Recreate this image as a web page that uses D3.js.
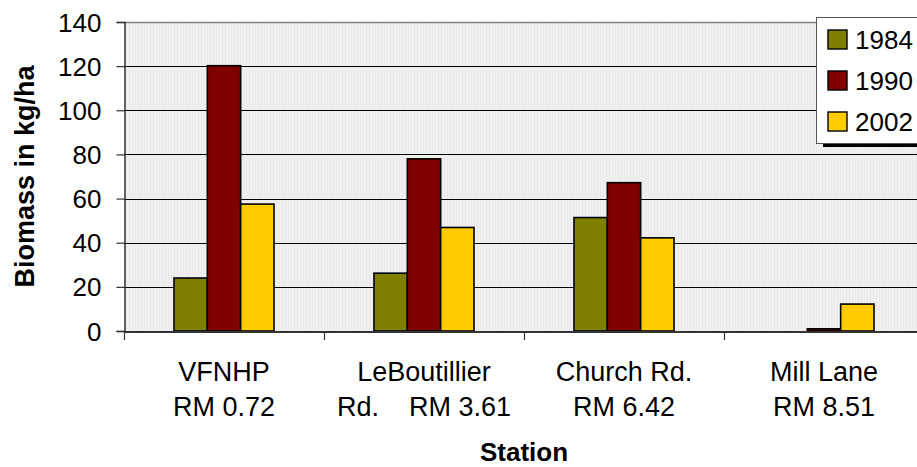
<!DOCTYPE html>
<html>
<head>
<meta charset="utf-8">
<script src="https://cdn.jsdelivr.net/npm/d3@7"></script>
<style>
  html, body { margin: 0; padding: 0; background: #fff; }
  svg { display: block; font-family: "Liberation Sans", Arial, sans-serif; }
</style>
</head>
<body>
<svg id="chart" width="917" height="467"></svg>
<script>
// Station categories and their two-line axis labels
const stations = ["VFNHP", "LeBoutillier Rd.", "Church Rd.", "Mill Lane"];
const stationLabels = [
  ["VFNHP", "RM 0.72"],
  ["LeBoutillier", "Rd.    RM 3.61"],
  ["Church Rd.", "RM 6.42"],
  ["Mill Lane", "RM 8.51"]
];

// Survey years and biomass (kg/ha) per station
const years = ["1984", "1990", "2002"];
const biomass1984 = [24, 26.2, 51.4, 0];
const biomass1990 = [120.2, 78, 67.2, 1];
const biomass2002 = [57.5, 46.9, 42.2, 12.2];
const yearColors = ["#808000", "#800000", "#FFCC00"];

// Value axis ticks
const yTicks = [0, 20, 40, 60, 80, 100, 120, 140];

const series = [biomass1984, biomass1990, biomass2002];

const svg = d3.select("#chart");
const plot = { left: 124, top: 22, right: 924, bottom: 331 };

const x = d3.scaleBand()
  .domain(stations)
  .range([plot.left, plot.right])
  .paddingInner(0)
  .paddingOuter(0);

const xYear = d3.scaleBand()
  .domain(years)
  .range([0, x.bandwidth()])
  .paddingInner(0)
  .paddingOuter(1.5);

const y = d3.scaleLinear().domain([0, 140]).range([plot.bottom, plot.top]);

// Plot area background with fine vertical texture
const defs = svg.append("defs");
const pat = defs.append("pattern")
  .attr("id", "bgTexture")
  .attr("patternUnits", "userSpaceOnUse")
  .attr("width", 3).attr("height", 10);
pat.append("rect").attr("width", 3).attr("height", 10).attr("fill", "#f0f0f0");
pat.append("rect").attr("width", 1).attr("height", 10).attr("fill", "#e9e9e9");

svg.append("rect")
  .attr("x", plot.left).attr("y", plot.top)
  .attr("width", plot.right - plot.left)
  .attr("height", plot.bottom - plot.top)
  .attr("fill", "url(#bgTexture)");

// Horizontal gridlines
svg.append("g")
  .selectAll("line")
  .data(yTicks.filter(t => t > 0 && t < 140))
  .join("line")
  .attr("x1", plot.left).attr("x2", plot.right)
  .attr("y1", d => Math.round(y(d)) + 0.5)
  .attr("y2", d => Math.round(y(d)) + 0.5)
  .attr("stroke", "#000").attr("stroke-width", 1);

// Top border of the plot area
svg.append("line")
  .attr("x1", plot.left).attr("x2", plot.right)
  .attr("y1", Math.round(y(140)) + 0.5).attr("y2", Math.round(y(140)) + 0.5)
  .attr("stroke", "#808080").attr("stroke-width", 1.5);

// Bars
const groups = svg.append("g")
  .selectAll("g")
  .data(stations)
  .join("g")
  .attr("transform", d => `translate(${x(d)},0)`);

groups.selectAll("rect")
  .data((d, i) => years.map((yr, j) => ({ year: yr, value: series[j][i], color: yearColors[j] })))
  .join("rect")
  .filter(d => d.value > 0)
  .attr("x", d => xYear(d.year))
  .attr("width", xYear.bandwidth())
  .attr("y", d => y(d.value))
  .attr("height", d => y(0) - y(d.value))
  .attr("fill", d => d.color)
  .attr("stroke", "#000")
  .attr("stroke-width", 1.6);

// Y axis
const yAxis = d3.axisLeft(y)
  .tickValues(yTicks)
  .tickSize(8)
  .tickPadding(15)
  .tickFormat(d3.format("d"));

const yg = svg.append("g")
  .attr("transform", `translate(${plot.left + 0.5},0)`)
  .call(yAxis);
yg.select(".domain").attr("stroke", "#333").attr("stroke-width", 1.5);
yg.selectAll(".tick line").attr("stroke", "#333").attr("stroke-width", 1.2);
yg.selectAll(".tick text")
  .attr("font-size", 26)
  .attr("fill", "#000")
  .attr("font-family", "Liberation Sans, Arial, sans-serif")
  .attr("dy", "0.35em");

// X axis (category ticks at band boundaries)
const xAxis = d3.axisBottom(x).tickSize(0).tickFormat("");
const xg = svg.append("g")
  .attr("transform", `translate(0,${plot.bottom + 0.5})`)
  .call(xAxis);
xg.select(".domain").attr("stroke", "#333").attr("stroke-width", 2);
xg.selectAll(".tick").remove();

svg.append("g")
  .selectAll("line")
  .data(stations)
  .join("line")
  .attr("x1", d => Math.round(x(d)) + 0.5)
  .attr("x2", d => Math.round(x(d)) + 0.5)
  .attr("y1", plot.bottom)
  .attr("y2", plot.bottom + 9)
  .attr("stroke", "#333").attr("stroke-width", 1.2);

// Category labels (two lines)
const labels = svg.append("g")
  .selectAll("text")
  .data(stations)
  .join("text")
  .attr("text-anchor", "middle")
  .attr("font-size", 27)
  .attr("fill", "#000")
  .attr("xml:space", "preserve")
  .style("white-space", "pre");

labels.selectAll("tspan")
  .data((d, i) => stationLabels[i].map(line => ({ line, cx: x(d) + x.bandwidth() / 2 })))
  .join("tspan")
  .attr("x", d => d.cx)
  .attr("y", (d, k) => 381 + k * 35)
  .text(d => d.line);

// Axis titles
svg.append("text")
  .attr("transform", `translate(34,${(plot.top + plot.bottom) / 2}) rotate(-90)`)
  .attr("text-anchor", "middle")
  .attr("font-size", 27)
  .attr("font-weight", "bold")
  .text("Biomass in kg/ha");

svg.append("text")
  .attr("x", (plot.left + plot.right) / 2)
  .attr("y", 461)
  .attr("text-anchor", "middle")
  .attr("font-size", 26)
  .attr("font-weight", "bold")
  .text("Station");

// Legend
const legend = svg.append("g").attr("transform", "translate(816,17)");
legend.append("rect")
  .attr("x", 7).attr("y", 126)
  .attr("width", 120).attr("height", 4)
  .attr("fill", "#000");
legend.append("rect")
  .attr("x", 0.5).attr("y", 0.5)
  .attr("width", 130).attr("height", 126)
  .attr("fill", "#fff")
  .attr("stroke", "#555").attr("stroke-width", 1);

const items = legend.selectAll("g.item")
  .data(years)
  .join("g")
  .attr("class", "item")
  .attr("transform", (d, i) => `translate(12,${13 + i * 41})`);

items.append("rect")
  .attr("width", 19).attr("height", 19)
  .attr("fill", (d, i) => yearColors[i])
  .attr("stroke", "#000").attr("stroke-width", 1.4);

items.append("text")
  .attr("x", 27)
  .attr("y", 19)
  .attr("font-size", 26)
  .text(d => d);
</script>
</body>
</html>
